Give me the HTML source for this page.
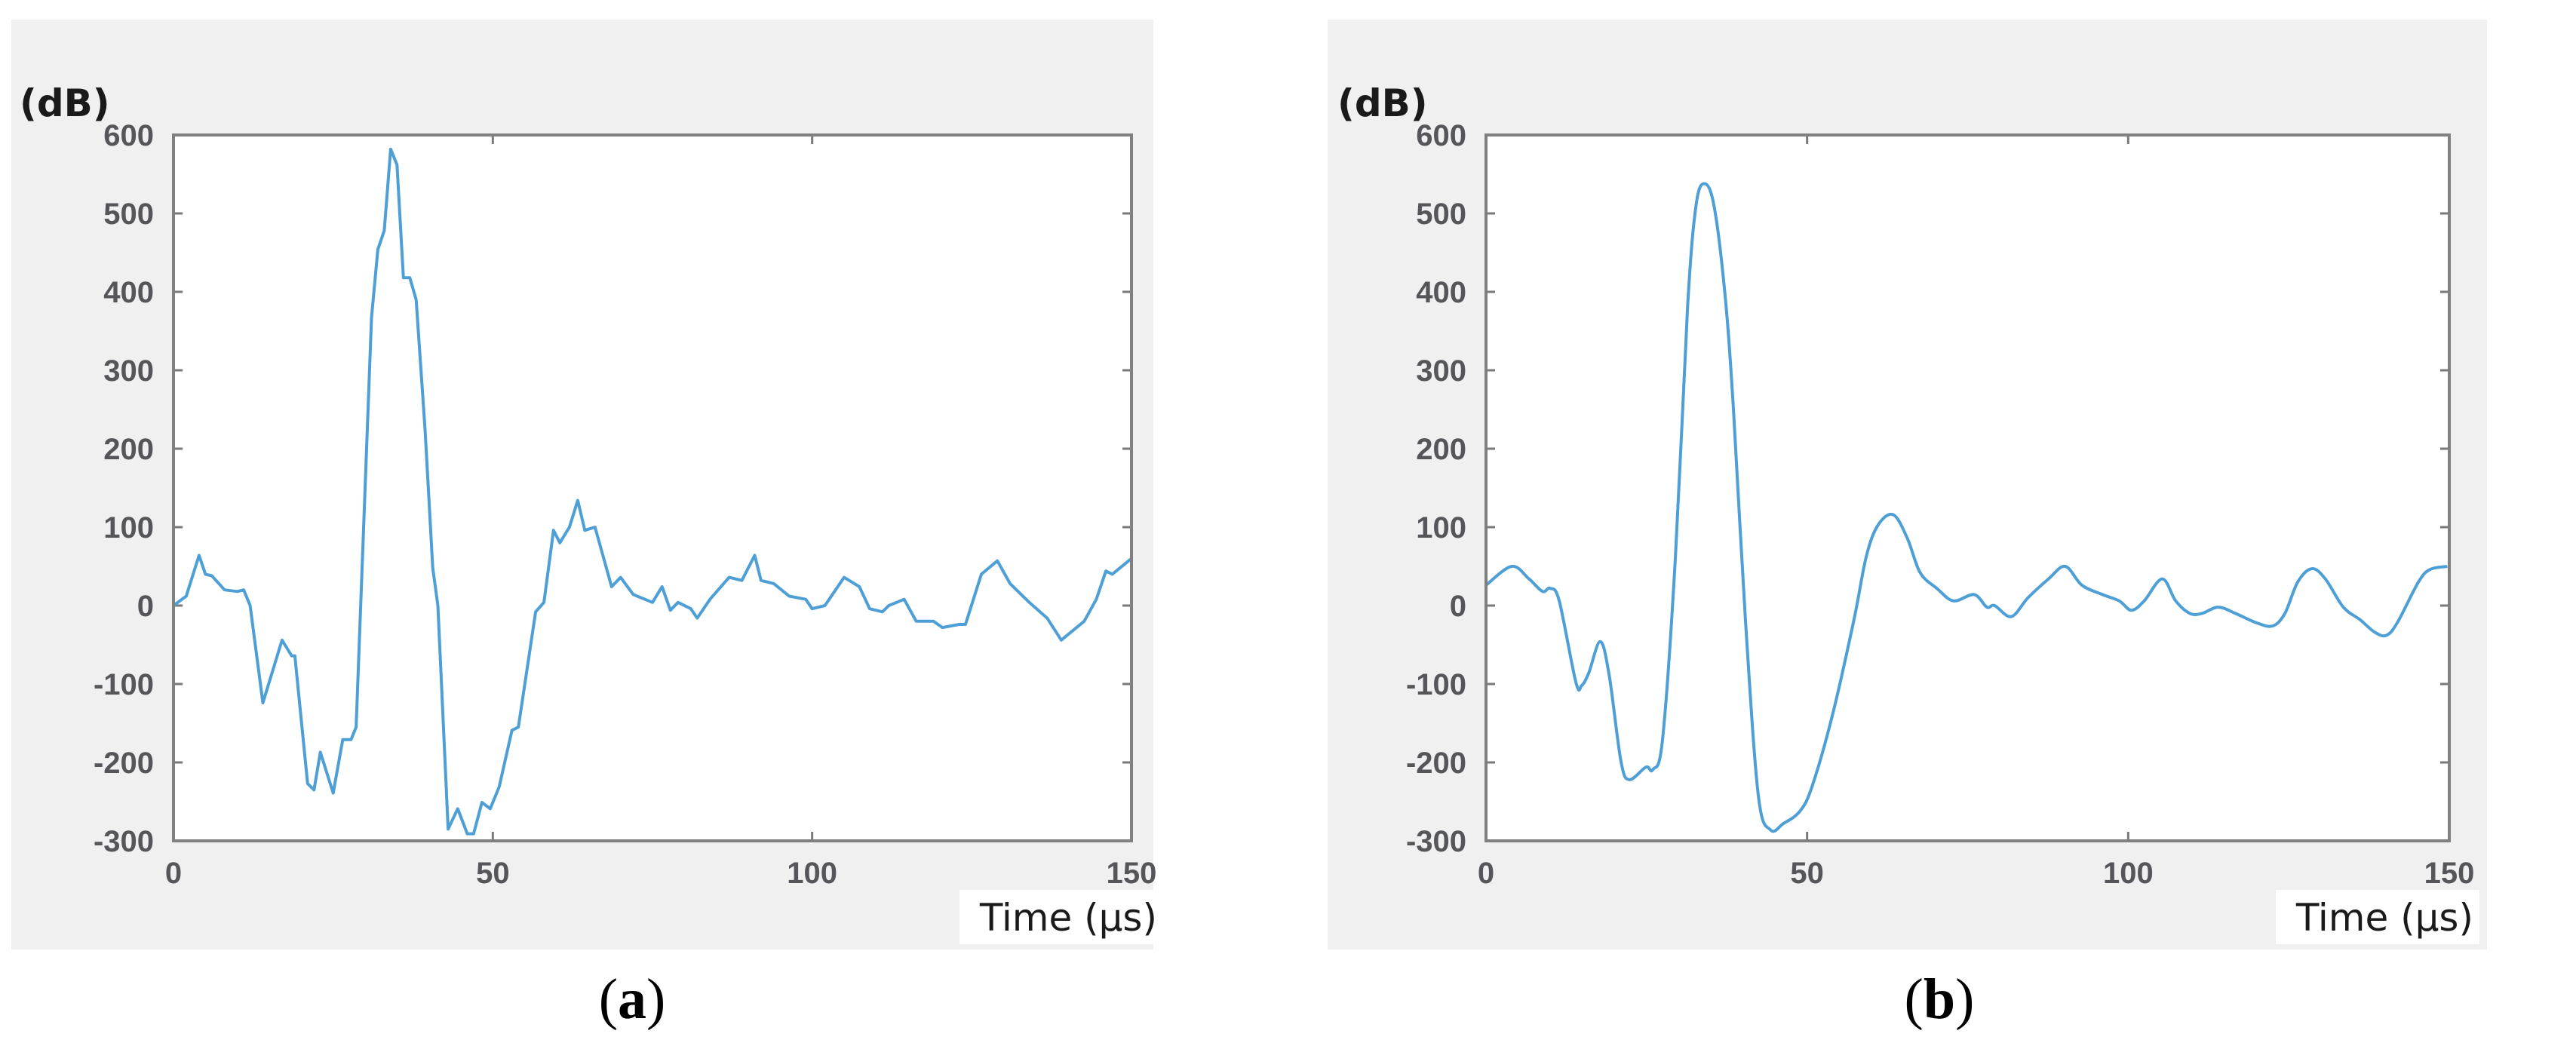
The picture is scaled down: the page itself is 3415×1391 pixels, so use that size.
<!DOCTYPE html>
<html><head><meta charset="utf-8">
<style>
html,body{margin:0;padding:0;background:#fff;}
body{width:3415px;height:1391px;overflow:hidden;}
svg{display:block;}
.tick{font-family:"Liberation Sans",sans-serif;font-size:40px;font-weight:bold;fill:#55555a;}
.unit{font-family:"DejaVu Sans","Liberation Sans",sans-serif;font-size:50px;fill:#1a1a1a;}
.cap{font-family:"Liberation Serif",serif;font-size:76px;fill:#000;}
</style></head>
<body>
<svg id="fig" width="3415" height="1391" viewBox="0 0 3415 1391"></svg>
<script>
const yTicks = [600,500,400,300,200,100,0,-100,-200,-300];
const xTicks = [0,50,100,150];
const timeA = [0,2,4,5,6,8,10,11,12,14,17,18.5,19,21,22,23,25,26.5,27.8,28.6,31,32,33,34,35,36,37,38,39.4,40.6,41.4,43,44.5,46,47,48.3,49.6,51,53,54,56.7,58,59.5,60.5,62,63.3,64.4,66,68.6,70,72,75,76.5,77.8,79,81,82,84,87,89,91,92,94,96.4,99,100,102,105,107.4,109,111,112,114.4,116.3,119,120.4,123,124,126.5,129,131,134,136.8,139,142.6,144.5,146,147,150];
const valuesA = [0,12,64,40,38,20,18,20,0,-124,-44,-64,-64,-227,-235,-187,-239,-171,-171,-155,367,454,478,582,562,418,418,390,223,48,0,-285,-259,-291,-291,-251,-259,-231,-159,-155,-8,4,96,80,100,134,96,100,24,36,14,4,24,-6,4,-4,-16,8,36,32,64,32,28,12,8,-4,0,36,24,-4,-8,0,8,-20,-20,-28,-24,-24,40,57,28,4,-16,-44,-20,8,44,40,60];
const timeB = [0,4,6.7,8.8,10,11.4,14,14.9,16,17.8,19.2,21,22.3,24.9,26,27.5,29.5,31.4,32.7,34,35.5,37.2,38.5,40.4,42.4,44.3,46.3,48.9,50.8,54,57.3,59.2,61,63.4,65.6,67.6,70.2,72.8,76,78,79.2,81.8,84.4,87.6,90.2,92.8,96,98.6,100.5,102.5,105.3,107.4,109.6,111.5,114,116.7,120,122.5,124.4,126.4,128.6,130.7,133.5,136.1,138.4,140.2,141.9,145.2,147,149.7];
const valuesB = [26,50,34,18,22,6,-98,-102,-86,-46,-90,-198,-222,-206,-209,-170,62,382,510,538,510,398,254,-18,-242,-286,-278,-262,-230,-138,-18,62,102,116,86,42,22,6,14,-2,0,-14,10,34,50,26,14,6,-6,6,34,6,-10,-10,-2,-10,-22,-26,-10,30,47,34,-2,-18,-34,-38,-22,30,46,50];

const NS = "http://www.w3.org/2000/svg";
const svg = document.getElementById('fig');
function mk(tag, attrs, parent){
  const e = document.createElementNS(NS, tag);
  for (const k in attrs) e.setAttribute(k, attrs[k]);
  (parent||svg).appendChild(e);
  return e;
}
function smoothPath(p){
  let d = 'M' + p[0][0].toFixed(1) + ',' + p[0][1].toFixed(1);
  for (let i = 0; i < p.length - 1; i++){
    const p0 = p[Math.max(0,i-1)], p1 = p[i], p2 = p[i+1], p3 = p[Math.min(p.length-1,i+2)];
    const c1x = p1[0] + (p2[0]-p0[0])/6, c1y = p1[1] + (p2[1]-p0[1])/6;
    const c2x = p2[0] - (p3[0]-p1[0])/6, c2y = p2[1] - (p3[1]-p1[1])/6;
    d += ' C' + c1x.toFixed(1)+','+c1y.toFixed(1)+' '+c2x.toFixed(1)+','+c2y.toFixed(1)+' '+p2[0].toFixed(1)+','+p2[1].toFixed(1);
  }
  return d;
}

function panel(cfg){
  const g = mk('g', {});
  
  
  const bg = mk('rect', {x:cfg.bgX, y:26, width:cfg.bgW, height:1233, fill:'#f0f0f0'}, g);
  
  
  const L = cfg.left, R = cfg.right, T = 179, B = 1115;
  const xs = t => L + (t - 0) / 150 * (R - L);
  const ys = v => B - (v + 300) / 900 * (B - T);
  const pa = mk('rect', {x:L, y:T, width:R-L, height:B-T, fill:'#fff'}, g);
  
  
  yTicks.forEach(v => {
    const y = ys(v);
    const t1 = mk('line', {x1:L, x2:L+12, y1:y, y2:y, stroke:'#7a7a7a', 'stroke-width':3}, g);
    
    
    mk('line', {x1:R, x2:R-12, y1:y, y2:y, stroke:'#7a7a7a', 'stroke-width':3}, g);
    const lb = mk('text', {x:L-26, y:y+14, 'text-anchor':'end', class:'tick'}, g);
    lb.textContent = v;
    
    
  });
  xTicks.forEach(t => {
    const x = xs(t);
    const t1 = mk('line', {x1:x, x2:x, y1:B, y2:B-12, stroke:'#7a7a7a', 'stroke-width':3}, g);
    
    
    mk('line', {x1:x, x2:x, y1:T, y2:T+12, stroke:'#7a7a7a', 'stroke-width':3}, g);
    const lb = mk('text', {x:x, y:1171, 'text-anchor':'middle', class:'tick'}, g);
    lb.textContent = t;
    
    
  });
  const pts = cfg.time.map((t,i) => [xs(t), ys(cfg.vals[i])]);
  let line;
  if (cfg.smooth){
    line = mk('path', {d:smoothPath(pts), fill:'none', stroke:'#4d9fd6', 'stroke-width':4, 'stroke-linejoin':'round'}, g);
  } else {
    line = mk('polyline', {points:pts.map(p=>p[0].toFixed(1)+','+p[1].toFixed(1)).join(' '), fill:'none', stroke:'#4d9fd6', 'stroke-width':4, 'stroke-linejoin':'round'}, g);
  }
  
  
  const box = mk('rect', {x:L, y:T, width:R-L, height:B-T, fill:'none', stroke:'#808080', 'stroke-width':4}, g);
  
  
  const yl = mk('text', {x:cfg.dbX, y:154, class:'unit', 'font-weight':'bold', 'font-size':'48px'}, g);
  yl.textContent = '(dB)';
  
  
  const wb = mk('rect', {x:cfg.timeBoxX, y:1180, width:270, height:72, fill:'#fff'}, g);
  
  
  const xl = mk('text', {x:cfg.timeBoxX+262, y:1234, 'text-anchor':'end', class:'unit', 'font-size':'56px'}, g);
  xl.textContent = 'Time (µs)';
  
  
  const cap = mk('text', {x:cfg.capX, y:1350, 'text-anchor':'middle', class:'cap'}, g);
  cap.innerHTML = '(<tspan font-weight="bold">' + cfg.id + '</tspan>)';
  
  
}

panel({id:'a', bgX:15, bgW:1514, left:230, right:1500, time:timeA, vals:valuesA, dbX:26, timeBoxX:1272, capX:838, smooth:false});
panel({id:'b', bgX:1760, bgW:1537, left:1970, right:3247, time:timeB, vals:valuesB, dbX:1773, timeBoxX:3017, capX:2571, smooth:true});
</script>
</body></html>
